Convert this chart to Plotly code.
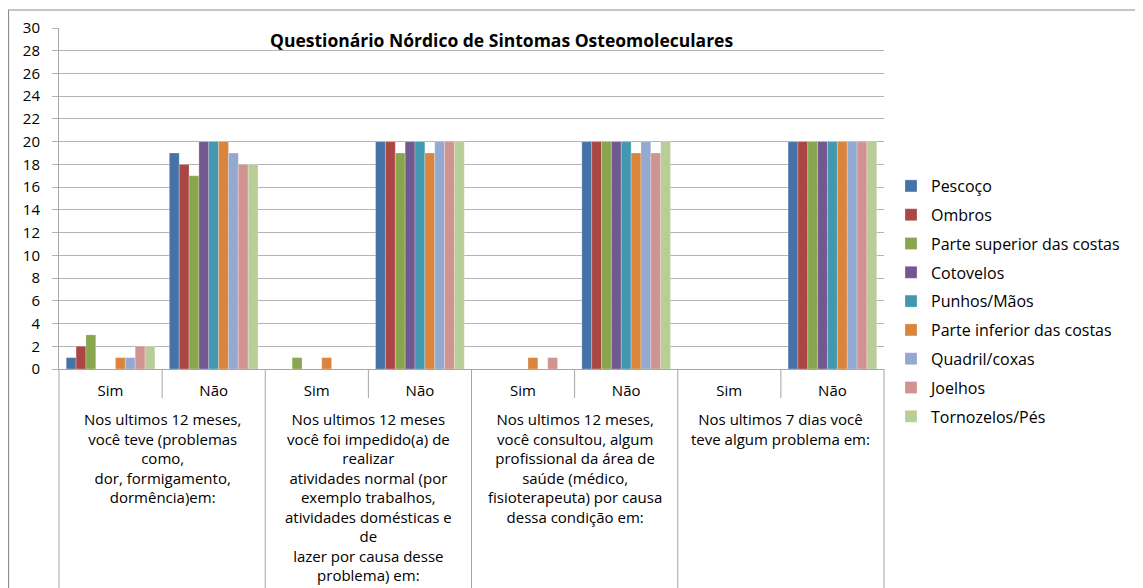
import plotly.graph_objects as go

# categorias do eixo x (4 perguntas x Sim/Não)
perguntas = [
    "Nos ultimos 12 meses,<br>você teve (problemas<br>como,<br>dor, formigamento,<br>dormência)em:",
    "Nos ultimos 12 meses<br>você foi impedido(a) de<br>realizar<br>atividades normal (por<br>exemplo trabalhos,<br>atividades domésticas e<br>de<br>lazer por causa desse<br>problema) em:",
    "Nos ultimos 12 meses,<br>você consultou, algum<br>profissional da área de<br>saúde (médico,<br>fisioterapeuta) por causa<br>dessa condição em:",
    "Nos ultimos 7 dias você<br>teve algum problema em:",
]
respostas = ["Sim", "Não"]

partes = ["Pescoço", "Ombros", "Parte superior das costas", "Cotovelos", "Punhos/Mãos",
          "Parte inferior das costas", "Quadril/coxas", "Joelhos", "Tornozelos/Pés"]

# valores por parte do corpo: (P1 Sim, P1 Não, P2 Sim, P2 Não, P3 Sim, P3 Não, P4 Sim, P4 Não)
pescoco = [1, 19, 0, 20, 0, 20, 0, 20]
ombros = [2, 18, 0, 20, 0, 20, 0, 20]
parte_superior = [3, 17, 1, 19, 0, 20, 0, 20]
cotovelos = [0, 20, 0, 20, 0, 20, 0, 20]
punhos = [0, 20, 0, 20, 0, 20, 0, 20]
parte_inferior = [1, 20, 1, 19, 1, 19, 0, 20]
quadril = [1, 19, 0, 20, 0, 20, 0, 20]
joelhos = [2, 18, 0, 20, 1, 19, 0, 20]
tornozelos = [2, 18, 0, 20, 0, 20, 0, 20]

series = [pescoco, ombros, parte_superior, cotovelos, punhos,
          parte_inferior, quadril, joelhos, tornozelos]
cores = ["#4572A7", "#AA4643", "#89A54E", "#71588F", "#4198AF",
         "#DB843D", "#93A9CF", "#D19392", "#B9CD96"]

cats = [f"P{i + 1} {r}" for i in range(len(perguntas)) for r in respostas]
tick_txt = [r for _ in perguntas for r in respostas]

FONT = "Open Sans"
GRID = "#B4B4B4"
OFF = 8  # page body margin

fig = go.Figure()
for nome, vals, cor in zip(partes, series, cores):
    fig.add_trace(go.Bar(x=cats, y=vals, name=nome, legendgroup=nome,
                         marker=dict(color=cor, line=dict(width=0.5, color="rgba(255,255,255,0.5)"))))

# screen pixel helpers (plot area on screen: x 59..884, y 28..369)
def px_x(p):
    return (p - 59) / 825.0


def px_y(p):
    return (369 - p) / 341.0


shapes = []
# outer frame (open on right/bottom, like the cropped original)
shapes.append(dict(type="rect", xref="paper", yref="paper",
                   x0=px_x(8.5), x1=px_x(1160), y0=px_y(600), y1=px_y(10),
                   line=dict(color="#8C8C8C", width=1.2), layer="below"))
# group separators down to the bottom
for xp in [0, 1]:
    shapes.append(dict(type="line", xref="paper", yref="paper", x0=xp, x1=xp,
                       y0=0, y1=px_y(600), line=dict(color="#A6A6A6", width=1)))
for xc in [1.5, 3.5, 5.5]:
    shapes.append(dict(type="line", xref="x", yref="paper", x0=xc, x1=xc,
                       y0=0, y1=px_y(600), line=dict(color="#A6A6A6", width=1)))
# short Sim/Não separators
for xc in [0.5, 2.5, 4.5, 6.5]:
    shapes.append(dict(type="line", xref="x", yref="paper", x0=xc, x1=xc,
                       y0=0, y1=px_y(398), line=dict(color="#A6A6A6", width=1)))

annotations = []
for i, txt in enumerate(perguntas):
    annotations.append(dict(x=2 * i + 0.5, y=px_y(407), xref="x", yref="paper",
                            text=txt, showarrow=False, xanchor="center", yanchor="top",
                            align="center", font=dict(family=FONT, size=15, color="#000000")))
annotations.append(dict(x=px_x(501), y=px_y(40), xref="paper", yref="paper",
                        text="<b>Questionário Nórdico de Sintomas Osteomoleculares</b>",
                        showarrow=False, xanchor="center", yanchor="middle",
                        font=dict(family=FONT, size=17.5, color="#000000")))

W, H = 1143 - OFF, 588 - OFF
fig.update_layout(
    width=W, height=H,
    margin=dict(l=59 - OFF, r=W - (884 - OFF), t=28 - OFF, b=H - (369 - OFF), autoexpand=False),
    paper_bgcolor="white", plot_bgcolor="white",
    font=dict(family=FONT, size=14, color="#000000"),
    barmode="group", bargap=0.14, bargroupgap=0,
    showlegend=True,
    legend=dict(x=px_x(891), y=px_y(169), xanchor="left", yanchor="top",
                font=dict(family=FONT, size=16), tracegroupgap=5,
                itemwidth=30, bgcolor="rgba(0,0,0,0)"),
    shapes=shapes,
    annotations=annotations,
)
fig.update_xaxes(type="category", categoryorder="array", categoryarray=cats,
                 tickvals=cats, ticktext=tick_txt, ticks="", showgrid=False,
                 showline=True, linecolor="#A6A6A6", linewidth=1,
                 tickfont=dict(family=FONT, size=15, color="#000000"),
                 ticklabelstandoff=8)
fig.update_yaxes(range=[0, 30], dtick=2, tick0=0, showgrid=True, gridcolor=GRID, gridwidth=1,
                 showline=True, linecolor="#A6A6A6", linewidth=1, ticks="outside",
                 ticklen=6, tickcolor=GRID, zeroline=False, ticklabelstandoff=9,
                 tickfont=dict(family=FONT, size=15, color="#000000"))

fig.write_html("out.html")
